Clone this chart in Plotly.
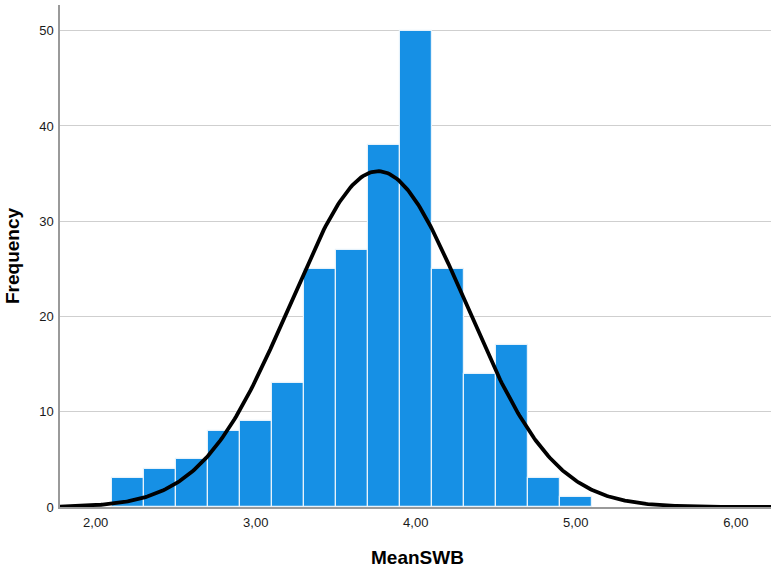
import numpy as np
import plotly.graph_objects as go

# Histogram data (bin centres, bin width 0.2)
bin_centers = [2.2, 2.4, 2.6, 2.8, 3.0, 3.2, 3.4, 3.6, 3.8, 4.0, 4.2, 4.4, 4.6, 4.8, 5.0]
frequencies = [3, 4, 5, 8, 9, 13, 25, 27, 38, 50, 25, 14, 17, 3, 1]
bin_width = 0.2

x_tick_vals = [2, 3, 4, 5, 6]
x_tick_text = ["2,00", "3,00", "4,00", "5,00", "6,00"]
y_tick_vals = [0, 10, 20, 30, 40, 50]

# Fitted normal curve from the binned data (as SPSS overlays)
c = np.array(bin_centers)
f = np.array(frequencies)
n = f.sum()
mean = (c * f).sum() / n
sd = np.sqrt((f * (c - mean) ** 2).sum() / (n - 1))
x_min, x_max = 1.777, 6.22
xs = np.linspace(x_min, x_max, 400)
ys = n * bin_width / (sd * np.sqrt(2 * np.pi)) * np.exp(-0.5 * ((xs - mean) / sd) ** 2)

fig = go.Figure()
fig.add_trace(go.Bar(
    x=bin_centers, y=frequencies, width=bin_width,
    marker=dict(color="#1690e5", line=dict(color="#e6f2fb", width=1.2)),
    hoverinfo="skip",
))
fig.add_trace(go.Scatter(
    x=xs, y=ys, mode="lines",
    line=dict(color="black", width=3.8),
    hoverinfo="skip",
))

fig.update_layout(
    width=772, height=568,
    margin=dict(l=60, r=1, t=5, b=61),
    paper_bgcolor="white", plot_bgcolor="white",
    showlegend=False,
    font=dict(family="Liberation Sans, Arial, sans-serif", size=13, color="#1a1a1a"),
    bargap=0,
    xaxis=dict(
        range=[x_min, x_max], tickvals=x_tick_vals, ticktext=x_tick_text,
        showgrid=False, zeroline=False,
        showline=True, linecolor="#9a9a9a", linewidth=1.5,
        ticks="", ticklabelstandoff=3,
        tickfont=dict(size=13, color="#1a1a1a"),
    ),
    yaxis=dict(
        range=[0, 52.7], tickvals=y_tick_vals,
        showgrid=True, gridcolor="#cfcfcf", gridwidth=1.3,
        zeroline=False,
        showline=True, linecolor="#9a9a9a", linewidth=1.5,
        ticks="", ticklabelstandoff=2,
        tickfont=dict(size=13, color="#1a1a1a"),
    ),
    annotations=[
        dict(text="<b>MeanSWB</b>", xref="paper", yref="paper", x=0.503, y=0,
             xanchor="center", yanchor="middle", yshift=-50, showarrow=False,
             font=dict(size=19, color="black")),
        dict(text="<b>Frequency</b>", xref="paper", yref="paper", x=0, y=0.5,
             xanchor="center", yanchor="middle", xshift=-48, textangle=-90,
             showarrow=False, font=dict(size=19, color="black")),
    ],
)

fig.write_html("out.html",
               config={"displayModeBar": False},
               post_script="document.body.style.margin='0';document.body.style.overflow='hidden';")
